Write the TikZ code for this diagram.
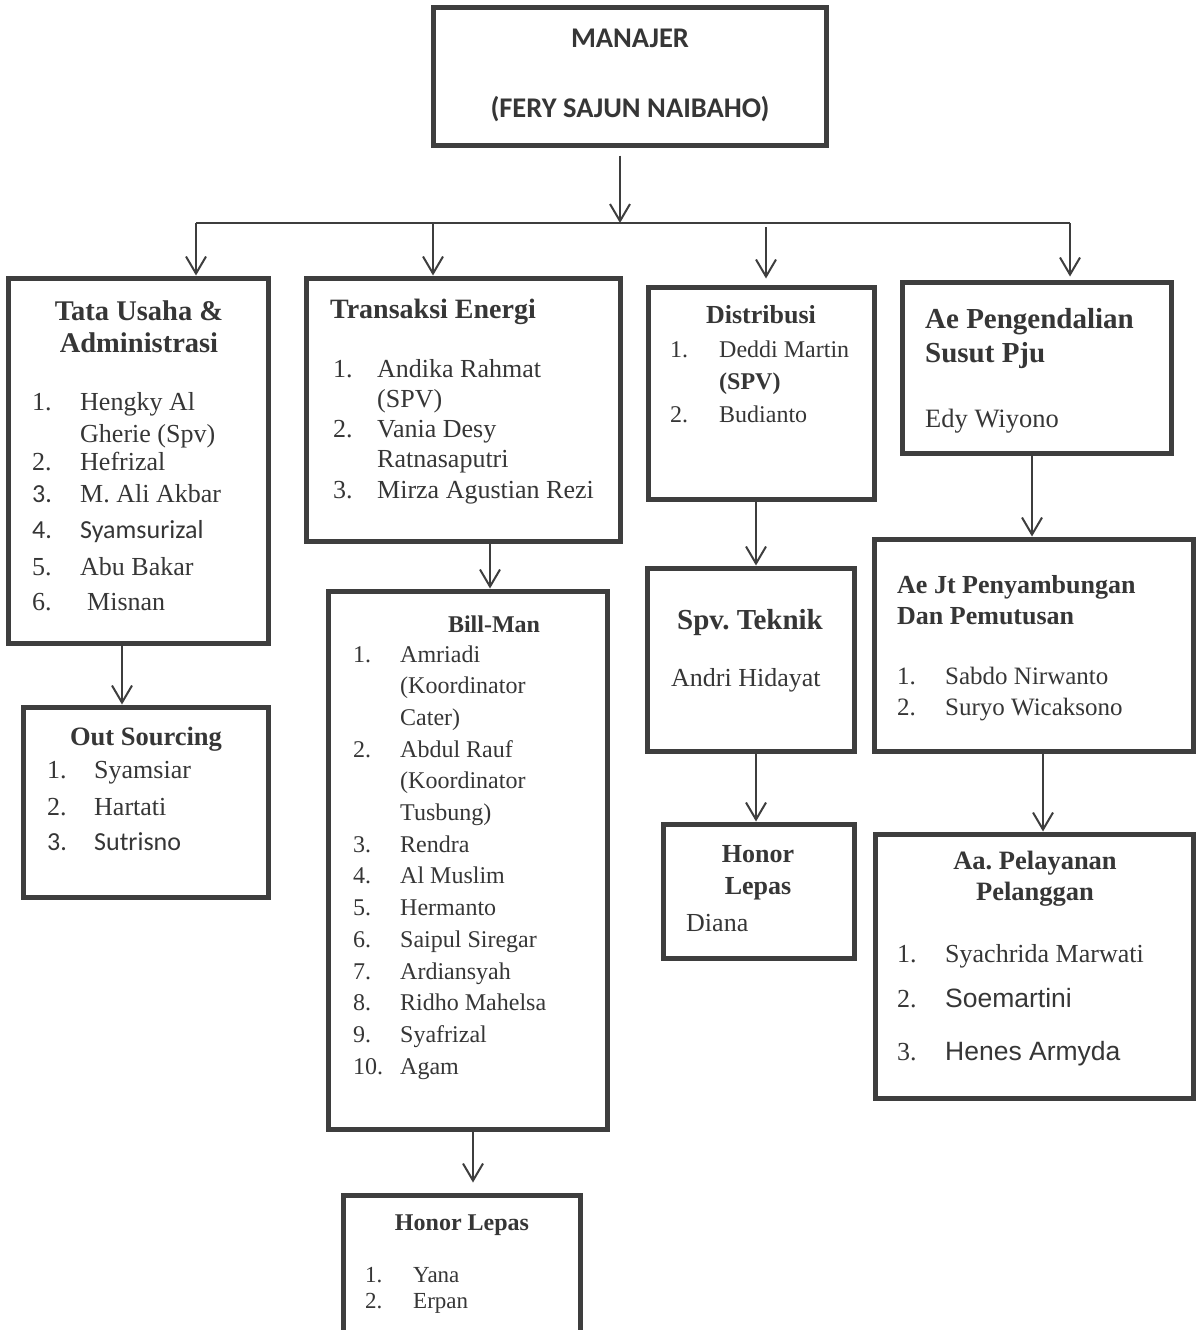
\documentclass[tikz,border=0pt]{standalone}
\usepackage{fontspec}
\setmainfont{Liberation Serif}
\newfontfamily\calfont{Carlito}
\newfontfamily\arifont{Liberation Sans}
\usetikzlibrary{arrows.meta,calc}
\definecolor{boxc}{HTML}{3E3E3E}
\definecolor{txtc}{HTML}{363636}
\frenchspacing
\begin{document}
\begin{tikzpicture}[x=1pt,y=-1pt,
  bx/.style={draw=boxc, line width=5pt, inner sep=0pt, fill=white},
  conn/.style={draw=boxc, line width=2pt},
  arr/.style={draw=boxc, line width=2pt, -{Straight Barb[length=17pt,width=20pt,line width=2pt]}},
  tx/.style={inner sep=0pt, anchor=base west, text=txtc},
  txc/.style={inner sep=0pt, anchor=base, text=txtc},
  fs/.style={font=\fontsize{#1pt}{#1pt}\selectfont\frenchspacing},
  bfs/.style={font=\fontsize{#1pt}{#1pt}\selectfont\bfseries\frenchspacing},
  cfs/.style={font=\fontsize{#1pt}{#1pt}\selectfont\calfont\frenchspacing},
  cbf/.style={font=\fontsize{#1pt}{#1pt}\selectfont\calfont\bfseries\frenchspacing},
  afs/.style={font=\fontsize{#1pt}{#1pt}\selectfont\arifont\frenchspacing}]
\useasboundingbox (0,0) rectangle (1196,1330);
\clip (0,0) rectangle (1196,1330);
\fill[white] (0,0) rectangle (1196,1330);

% boxes
\node[bx, minimum width=393pt, minimum height=137pt] (man) at (629.5,76.5) {};
\node[bx, minimum width=260pt, minimum height=365pt] (tata) at (138,460.5) {};
\node[bx, minimum width=314pt, minimum height=263pt] (trans) at (463,409.5) {};
\node[bx, minimum width=226pt, minimum height=212pt] (dist) at (761,393) {};
\node[bx, minimum width=269pt, minimum height=171pt] (aep) at (1036.5,367.5) {};
\node[bx, minimum width=279pt, minimum height=538pt] (bill) at (467.5,860) {};
\node[bx, minimum width=207pt, minimum height=183pt] (spv) at (750.5,659.5) {};
\node[bx, minimum width=319pt, minimum height=212pt] (aejt) at (1033.5,645) {};
\node[bx, minimum width=245pt, minimum height=190pt] (outs) at (145.5,802) {};
\node[bx, minimum width=191pt, minimum height=134pt] (hon1) at (758.5,891) {};
\node[bx, minimum width=318pt, minimum height=264pt] (aa) at (1034,966) {};
\node[bx, minimum width=237pt, minimum height=160pt] (hon2) at (461.5,1275) {};

% connectors
\coordinate (hub) at (620,223);
\coordinate (hl) at (196,223);
\coordinate (hr) at (1070,223);
\coordinate (d2) at (433,223);
\coordinate (d3) at (766,227);
\draw[conn] (hl) -- (hr);
\draw[arr] ($(man.south -| hub)+(0,8)$) -- (hub);
\draw[arr] (hl) -- (hl |- tata.north);
\draw[arr] (d2) -- (d2 |- trans.north);
\draw[arr, shorten >=6pt] (d3) -- (d3 |- dist.north);
\draw[arr, shorten >=3pt] (hr) -- (hr |- aep.north);
\coordinate (c1) at (122,0);
\coordinate (c2) at (490,0);
\coordinate (c3) at (473,0);
\coordinate (c4) at (756,0);
\coordinate (c5) at (1032,0);
\coordinate (c6) at (1043,0);
\draw[arr] (tata.south -| c1) -- (outs.north -| c1);
\draw[arr] (trans.south -| c2) -- (bill.north -| c2);
\draw[arr, shorten >=10pt] (bill.south -| c3) -- (hon2.north -| c3);
\draw[arr] (dist.south -| c4) -- (spv.north -| c4);
\draw[arr] (spv.south -| c4) -- (hon1.north -| c4);
\draw[arr] (aep.south -| c5) -- (aejt.north -| c5);
\draw[arr] (aejt.south -| c6) -- (aa.north -| c6);

% manager
\node[txc, cbf=28.5] (m1) at (630,48) {MANAJER};
\node[txc, cbf=28.5] (m2) at (630,117) {(FERY SAJUN NAIBAHO)};

% tata usaha
\node[txc, bfs=28.5] (ta0) at (139,320) {Tata Usaha \&};
\node[txc, bfs=28.5] (ta1) at (139,352) {Administrasi};
\node[tx, fs=26] (ta2) at (32,410) {1.};
\node[tx, fs=26] (ta3) at (80,410) {Hengky Al};
\node[tx, fs=26] (ta4) at (80,442) {Gherie (Spv)};
\node[tx, fs=26] (ta5) at (32,470) {2.};
\node[tx, fs=26] (ta6) at (80,470) {Hefrizal};
\node[tx, cfs=26] (ta7) at (32,502) {3.};
\node[tx, fs=26] (ta8) at (80,502) {M. Ali Akbar};
\node[tx, cfs=26] (ta9) at (32,538) {4.};
\node[tx, cfs=26] (ta10) at (80,538) {Syamsurizal};
\node[tx, fs=26] (ta11) at (32,575) {5.};
\node[tx, fs=26] (ta12) at (80,575) {Abu Bakar};
\node[tx, fs=26] (ta13) at (32,610) {6.};
\node[tx, fs=26] (ta14) at (87,610) {Misnan};

% transaksi energi
\node[tx, bfs=28] (tr0) at (330,318) {Transaksi Energi};
\node[tx, fs=26] (tr1) at (333,377) {1.};
\node[tx, fs=26] (tr2) at (377,377) {Andika Rahmat};
\node[tx, fs=26] (tr3) at (377,407) {(SPV)};
\node[tx, fs=26] (tr4) at (333,437) {2.};
\node[tx, fs=26] (tr5) at (377,437) {Vania Desy};
\node[tx, fs=26] (tr6) at (377,467.5) {Ratnasaputri};
\node[tx, fs=26] (tr7) at (333,498) {3.};
\node[tx, fs=26] (tr8) at (377,498) {Mirza Agustian Rezi};

% distribusi
\node[txc, bfs=26] (di0) at (761,323) {Distribusi};
\node[tx, fs=24] (di1) at (670,357) {1.};
\node[tx, fs=24] (di2) at (719,357) {Deddi Martin};
\node[tx, bfs=24] (di3) at (719,389) {(SPV)};
\node[tx, fs=24] (di4) at (670,422) {2.};
\node[tx, fs=24] (di5) at (719,422) {Budianto};

% ae pengendalian
\node[tx, bfs=29] (ap0) at (925,328) {Ae Pengendalian};
\node[tx, bfs=29] (ap1) at (925,362) {Susut Pju};
\node[tx, fs=26.5] (ap2) at (925,427) {Edy Wiyono};

% bill-man
\node[txc, bfs=24] (bm0) at (494,632) {Bill-Man};
\node[tx, fs=24] (bm1) at (353,662) {1.};
\node[tx, fs=24] (bm2) at (400,662) {Amriadi};
\node[tx, fs=24] (bm3) at (400,693.7) {(Koordinator};
\node[tx, fs=24] (bm4) at (400,725.4) {Cater)};
\node[tx, fs=24] (bm5) at (353,757.1) {2.};
\node[tx, fs=24] (bm6) at (400,757.1) {Abdul Rauf};
\node[tx, fs=24] (bm7) at (400,788.8) {(Koordinator};
\node[tx, fs=24] (bm8) at (400,820.5) {Tusbung)};
\node[tx, fs=24] (bm9) at (353,852.2) {3.};
\node[tx, fs=24] (bm10) at (400,852.2) {Rendra};
\node[tx, fs=24] (bm11) at (353,883.9) {4.};
\node[tx, fs=24] (bm12) at (400,883.9) {Al Muslim};
\node[tx, fs=24] (bm13) at (353,915.6) {5.};
\node[tx, fs=24] (bm14) at (400,915.6) {Hermanto};
\node[tx, fs=24] (bm15) at (353,947.3) {6.};
\node[tx, fs=24] (bm16) at (400,947.3) {Saipul Siregar};
\node[tx, fs=24] (bm17) at (353,979) {7.};
\node[tx, fs=24] (bm18) at (400,979) {Ardiansyah};
\node[tx, fs=24] (bm19) at (353,1010.7) {8.};
\node[tx, fs=24] (bm20) at (400,1010.7) {Ridho Mahelsa};
\node[tx, fs=24] (bm21) at (353,1042.4) {9.};
\node[tx, fs=24] (bm22) at (400,1042.4) {Syafrizal};
\node[tx, fs=24] (bm23) at (353,1074.1) {10.};
\node[tx, fs=24] (bm24) at (400,1074.1) {Agam};

% spv teknik
\node[txc, bfs=29] (sp0) at (750,629) {Spv. Teknik};
\node[tx, fs=26] (sp1) at (671,686) {Andri Hidayat};

% ae jt
\node[tx, bfs=26] (aj0) at (897,593) {Ae Jt Penyambungan};
\node[tx, bfs=26] (aj1) at (897,624) {Dan Pemutusan};
\node[tx, fs=25] (aj2) at (897,684) {1.};
\node[tx, fs=25] (aj3) at (945,684) {Sabdo Nirwanto};
\node[tx, fs=25] (aj4) at (897,715) {2.};
\node[tx, fs=25] (aj5) at (945,715) {Suryo Wicaksono};

% out sourcing
\node[txc, bfs=26.5] (os0) at (146,745) {Out Sourcing};
\node[tx, fs=26] (os1) at (47,778) {1.};
\node[tx, fs=26] (os2) at (94,778) {Syamsiar};
\node[tx, fs=26] (os3) at (47,815) {2.};
\node[tx, fs=26] (os4) at (94,815) {Hartati};
\node[tx, cfs=26] (os5) at (47,850) {3.};
\node[tx, cfs=26] (os6) at (94,850) {Sutrisno};

% honor lepas (diana)
\node[txc, bfs=26] (h10) at (758,862) {Honor};
\node[txc, bfs=26] (h11) at (758,894) {Lepas};
\node[tx, fs=26] (h12) at (686,931) {Diana};

% aa pelayanan
\node[txc, bfs=26.5] (aa0) at (1035,869) {Aa. Pelayanan};
\node[txc, bfs=26.5] (aa1) at (1035,900) {Pelanggan};
\node[tx, fs=26] (aa2) at (897,962) {1.};
\node[tx, fs=26] (aa3) at (945,962) {Syachrida Marwati};
\node[tx, fs=26] (aa4) at (897,1007) {2.};
\node[tx, afs=26.5] (aa5) at (945,1007) {Soemartini};
\node[tx, fs=26] (aa6) at (897,1060) {3.};
\node[tx, afs=26.5] (aa7) at (945,1060) {Henes Armyda};

% honor lepas (bottom)
\node[txc, bfs=24] (h20) at (462,1230) {Honor Lepas};
\node[tx, fs=23] (h21) at (365,1282) {1.};
\node[tx, fs=23] (h22) at (413,1282) {Yana};
\node[tx, fs=23] (h23) at (365,1308) {2.};
\node[tx, fs=23] (h24) at (413,1308) {Erpan};
\end{tikzpicture}
\end{document}
